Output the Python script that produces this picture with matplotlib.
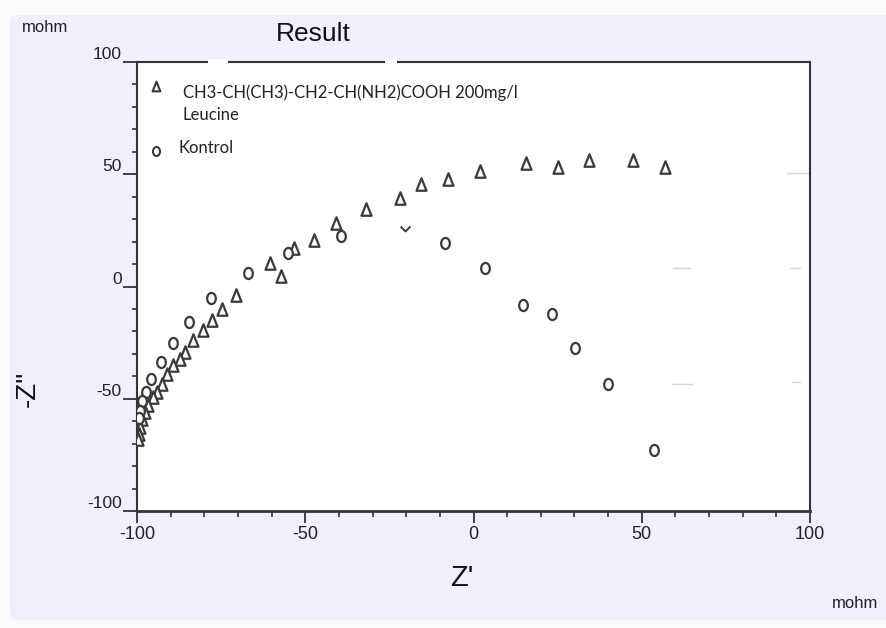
import numpy as np
import matplotlib
matplotlib.use("Agg")
import matplotlib.pyplot as plt
from matplotlib.path import Path
from matplotlib.patches import FancyBboxPatch
from matplotlib.ticker import MultipleLocator

# ---------------- data ----------------
leucine_x = [56.9, 47.3, 34.2, 25.0, 15.5, 1.8, -7.5, -15.5, -21.9, -31.9, -40.9,
             -47.3, -53.2, -60.4, -57.3, -70.5, -74.6, -77.6, -80.5, -83.5, -85.8,
             -87.1, -89.2, -91.1, -92.7, -94.2, -95.2, -96.7, -97.6, -98.6, -99.1,
             -99.4, -99.6]
leucine_y = [53.3, 56.3, 56.3, 53.3, 54.8, 51.4, 47.7, 45.7, 39.6, 34.5, 28.3,
             20.8, 17.1, 10.4, 4.7, -3.8, -9.8, -14.7, -19.2, -23.9, -29.2,
             -32.1, -35.1, -39.1, -43.3, -47.1, -49.3, -53.0, -56.0, -59.0, -62.7,
             -65.7, -67.9]

kontrol_x = [53.7, 39.9, 30.1, 23.3, 14.7, 3.4, -8.5, -39.3, -55.2, -67.0, -77.9,
             -84.5, -89.4, -93.0, -95.9, -97.3, -98.5, -99.1, -99.4]
kontrol_y = [-72.8, -43.3, -27.4, -12.4, -8.3, 8.1, 19.3, 22.3, 15.1, 5.9, -5.3,
             -15.7, -25.3, -33.8, -41.4, -47.1, -50.8, -55.3, -58.5]

stray_x = [-20.3]
stray_y = [25.7]

x_ticks = [-100, -50, 0, 50, 100]
y_ticks = [-100, -50, 0, 50, 100]

title = "Result"
legend_line1 = "CH3-CH(CH3)-CH2-CH(NH2)COOH 200mg/l"
legend_line2 = "Leucine"
legend_kontrol = "Kontrol"

# ---------------- figure ----------------
W, H = 886, 628
fig = plt.figure(figsize=(W / 100, H / 100), dpi=100)
fig.patch.set_facecolor("#fbfbfc")

def fx(px):
    return px / W

def fy(py):
    return 1 - py / H

bg = FancyBboxPatch((fx(10), fy(620)), fx(886) - fx(10) + 0.02, fy(15) - fy(620),
                    boxstyle="round,pad=0,rounding_size=0.01",
                    transform=fig.transFigure, facecolor="#eff0fa",
                    edgecolor="none", zorder=-10)
fig.patches.append(bg)

ax_l, ax_r, ax_t, ax_b = 137, 810, 62, 511
ax = fig.add_axes([fx(ax_l), fy(ax_b), fx(ax_r) - fx(ax_l), fy(ax_t) - fy(ax_b)])
ax.set_zorder(1)
ax.set_facecolor("white")
ax.set_xlim(-100, 100)
ax.set_ylim(-100, 100)

spine_c = "#333333"
for s in ax.spines.values():
    s.set_color(spine_c)
    s.set_linewidth(1.5)
ax.spines["bottom"].set_linewidth(2.0)

ax.xaxis.set_major_locator(MultipleLocator(50))
ax.xaxis.set_minor_locator(MultipleLocator(10))
ax.yaxis.set_major_locator(MultipleLocator(50))
ax.yaxis.set_minor_locator(MultipleLocator(10))
ax.set_xticks(x_ticks)
ax.set_yticks(y_ticks)
ax.set_xticklabels([str(v) for v in x_ticks])
ax.set_yticklabels([str(v) for v in y_ticks])

tick_font = "Liberation Sans"
ax.tick_params(axis="x", which="major", direction="out", length=8.6, width=1.3,
               color=spine_c, pad=2, labelsize=13, labelcolor="#222222")
ax.tick_params(axis="x", which="minor", direction="out", length=4, width=1.2,
               color=spine_c)
ax.tick_params(axis="y", which="major", direction="out", length=10, width=1.3,
               color=spine_c, pad=1, labelsize=12.5, labelcolor="#222222")
ax.tick_params(axis="y", which="minor", direction="out", length=3.6, width=1.2,
               color=spine_c)
for lab in ax.get_xticklabels() + ax.get_yticklabels():
    lab.set_fontfamily(tick_font)
for lab in ax.get_yticklabels():
    lab.set_va("bottom")

# markers
tri_path = Path([(-0.8, -1.0), (0.8, -1.0), (0.0, 1.0), (-0.8, -1.0)],
                [Path.MOVETO, Path.LINETO, Path.LINETO, Path.CLOSEPOLY])
circ = Path.unit_circle()
ell_path = Path(circ.vertices * np.array([0.78, 1.0]), circ.codes)
v_path = Path([(-1.0, 0.6), (0.0, -0.4), (1.0, 0.6)],
              [Path.MOVETO, Path.LINETO, Path.LINETO])

mk_c = "#3a3a3a"
ax.plot(leucine_x, leucine_y, linestyle="none", marker=tri_path, markersize=9,
        markerfacecolor="white", markeredgecolor=mk_c, markeredgewidth=1.6,
        zorder=3)
ax.plot(kontrol_x, kontrol_y, linestyle="none", marker=ell_path, markersize=8,
        markerfacecolor="white", markeredgecolor=mk_c, markeredgewidth=1.6,
        zorder=3)
ax.plot(stray_x, stray_y, linestyle="none", marker=v_path, markersize=7,
        markerfacecolor="none", markeredgecolor=mk_c, markeredgewidth=1.4,
        zorder=3)

# faint stubs inside plot
def afx(px):
    return (px - ax_l) / (ax_r - ax_l)

def afy(py):
    return (ax_b - py) / (ax_b - ax_t)

for (x0, x1, yy) in [(787, 810, 173), (790, 800, 268), (792, 800, 382),
                     (673, 690, 268), (672, 692, 384)]:
    ax.plot([afx(x0), afx(x1)], [afy(yy), afy(yy)], color="#d6d6d6", lw=1.0,
            transform=ax.transAxes, zorder=1)

# gaps in top spine
for (x0, x1) in [(208, 228), (385, 397)]:
    ax.plot([afx(x0), afx(x1)], [1.0, 1.0], color="white", lw=4,
            transform=ax.transAxes, clip_on=False, zorder=10,
            solid_capstyle="butt")

# manual legend
leg_font = "Lato"
ax.plot([afx(156)], [afy(86)], linestyle="none", marker=tri_path, markersize=7,
        markerfacecolor="white", markeredgecolor=mk_c, markeredgewidth=1.5,
        transform=ax.transAxes, zorder=4)
ax.plot([afx(156)], [afy(151)], linestyle="none", marker=ell_path, markersize=6.5,
        markerfacecolor="white", markeredgecolor=mk_c, markeredgewidth=1.5,
        transform=ax.transAxes, zorder=4)
ax.text(afx(183), afy(98), legend_line1, transform=ax.transAxes, va="baseline",
        ha="left", fontsize=12, family=leg_font, color="#222222")
ax.text(afx(183), afy(120), legend_line2, transform=ax.transAxes, va="baseline",
        ha="left", fontsize=12, family=leg_font, color="#222222")
ax.text(afx(178), afy(153), legend_kontrol, transform=ax.transAxes, va="baseline",
        ha="left", fontsize=12, family=leg_font, color="#222222")

# texts
fig.text(fx(313), fy(34), title, ha="center", va="center", fontsize=19,
         family="Liberation Sans", color="#111111")
fig.text(fx(22), fy(28), "mohm", ha="left", va="center", fontsize=12,
         family="Liberation Sans", color="#222222")
fig.text(fx(462), fy(578), "Z'", ha="center", va="center", fontsize=21,
         family="Liberation Sans", color="#111111")
fig.text(fx(28), fy(389), "-Z\"", ha="center", va="center", fontsize=20,
         family="Liberation Sans", color="#111111", rotation=90)
fig.text(fx(855), fy(603), "mohm", ha="center", va="center", fontsize=12,
         family="Liberation Sans", color="#222222")

fig.savefig("out.png", dpi=100, facecolor=fig.get_facecolor())
